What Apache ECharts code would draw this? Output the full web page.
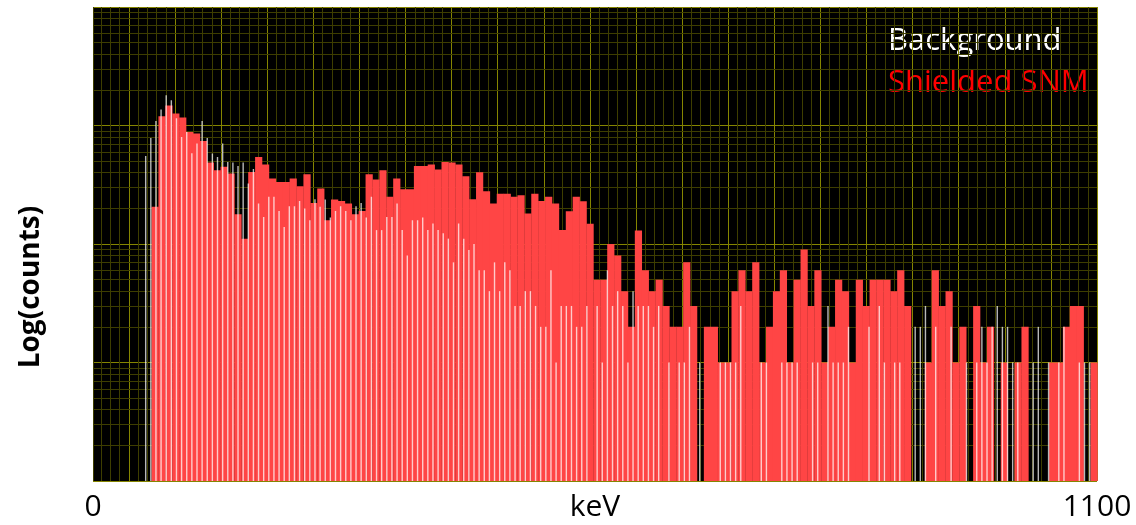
<!DOCTYPE html>
<html>
<head>
<meta charset="utf-8">
<script src="https://cdn.jsdelivr.net/npm/echarts@6/dist/echarts.min.js"></script>
<style>
html, body { margin: 0; padding: 0; background: #fff; }
#chart { width: 1136px; height: 525px; }
</style>
</head>
<body>
<div id="chart"></div>
<script>
// shielded SNM spectrum, counts per bin (wide bins)
const snmCounts = [
  206, 1198, 1475, 1262, 1169, 883, 856, 741, 488, 420,
  448, 394, 178, 111, 406, 543, 469, 357, 334, 334,
  357, 307, 388, 222, 294, 159, 237, 231, 220, 178,
  190, 388, 350, 420, 250, 357, 290, 290, 456, 456,
  469, 425, 493, 488, 469, 373, 239, 403, 279, 220,
  265, 265, 250, 258, 181, 265, 231, 250, 220, 131,
  189, 250, 230, 148, 50, 50, 100, 80, 40, 20,
  130, 60, 40, 50, 30, 20, 20, 70, 30, 0,
  20, 20, 10, 10, 40, 60, 40, 70, 10, 20,
  40, 60, 10, 50, 90, 30, 60, 10, 20, 50,
  40, 10, 50, 30, 50, 50, 50, 40, 60, 30,
  0, 0, 10, 60, 30, 40, 10, 20, 0, 30,
  10, 20, 0, 10, 0, 10, 20, 0, 0, 0,
  10, 10, 20, 30, 30, 0, 10
];
// background spectrum, counts per bin (narrow bins)
const bgCounts = [
  554, 786, 1094, 1365, 1803, 1635, 1152, 801, 883, 584,
  705, 1094, 786, 580, 543, 705, 493, 487, 456, 487,
  324, 430, 220, 169, 250, 250, 190, 139, 208, 208,
  231, 199, 159, 239, 206, 237, 167, 190, 208, 190,
  159, 208, 222, 167, 250, 131, 131, 169, 169, 220,
  131, 80, 159, 159, 167, 131, 149, 131, 123, 111,
  70, 149, 111, 89, 100, 60, 60, 40, 70, 40,
  70, 60, 30, 30, 40, 40, 30, 20, 20, 60,
  10, 30, 30, 30, 20, 20, 30, 0, 30, 10,
  60, 30, 40, 30, 10, 40, 30, 30, 30, 20,
  30, 0, 10, 0, 10, 10, 20, 0, 10, 0,
  0, 0, 10, 10, 10, 10, 30, 0, 0, 0,
  10, 10, 0, 0, 10, 10, 10, 10, 0, 0,
  10, 10, 0, 30, 10, 10, 10, 20, 0, 0,
  0, 20, 0, 30, 10, 0, 10, 10, 0, 0,
  20, 20, 30, 0, 20, 0, 0, 20, 0, 0,
  10, 0, 10, 20, 10, 20, 30, 20, 20, 10,
  10, 0, 0, 10, 20, 0, 10, 0, 10, 20,
  0, 0, 10, 10, 10, 0
];
// energy axis end labels (keV)
const energyRange = [0, 1100];
// log grid: decades and the minor multipliers inside each decade
const decades = [1, 10, 100, 1000];
const minorSteps = [2, 3, 4, 5, 6, 7, 8, 9];

const majorGrid = '#858500';
const minorGrid = '#3e3e00';
const font = '"Open Sans", "Noto Sans", sans-serif';

let minorLines = [];
decades.forEach(d => {
  minorSteps.forEach(m => minorLines.push({ yAxis: d * m }));
});

const chart = echarts.init(document.getElementById('chart'));

const option = {
  animation: false,
  grid: {
    left: 93, top: 7, width: 1004, height: 474,
    outerBoundsMode: 'none', containLabel: false,
    show: true, backgroundColor: '#000', borderWidth: 0
  },
  xAxis: [
    // bins of the SNM spectrum
    { type: 'value', min: -8.5, max: 136.92, show: false },
    // bins of the background spectrum
    { type: 'value', min: -10.27, max: 185.44, show: false },
    // vertical grid (counted from the right edge)
    {
      type: 'value', inverse: true, min: 0, max: 108.9, interval: 1,
      position: 'top',
      axisLine: { show: false }, axisTick: { show: false }, axisLabel: { show: false },
      splitLine: {
        show: true,
        lineStyle: { color: [majorGrid, minorGrid, minorGrid, minorGrid, minorGrid], width: 1 }
      }
    },
    // energy labels
    {
      type: 'value', min: energyRange[0], max: energyRange[1], interval: energyRange[1],
      position: 'bottom',
      axisLine: { show: false }, axisTick: { show: false }, splitLine: { show: false },
      axisLabel: { color: '#000', fontSize: 30, fontFamily: font, margin: 11, formatter: v => String(v) },
      name: 'keV', nameLocation: 'middle', nameGap: 11, nameMoveOverlap: false,
      nameTextStyle: { color: '#000', fontSize: 30, fontFamily: font, verticalAlign: 'top' }
    }
  ],
  yAxis: {
    type: 'log', logBase: 10, min: 1, max: 10000,
    axisLine: { show: false }, axisTick: { show: false }, axisLabel: { show: false },
    splitLine: { show: true, lineStyle: { color: majorGrid, width: 1 } }
  },
  series: [
    {
      name: 'Shielded SNM',
      type: 'bar',
      xAxisIndex: 0,
      barWidth: 7.2,
      z: 3,
      itemStyle: { color: '#ff4545' },
      data: snmCounts.map((v, i) => [i + 0.5, v > 0 ? v : '-']),
      markLine: {
        silent: true, z: 1, symbol: ['none', 'none'],
        label: { show: false },
        lineStyle: { color: minorGrid, type: 'solid', width: 1 },
        data: minorLines
      }
    },
    {
      name: 'Background',
      type: 'bar',
      xAxisIndex: 1,
      barWidth: 1.4,
      z: 4,
      itemStyle: { color: 'rgba(255,255,255,0.72)' },
      data: bgCounts.map((v, i) => [i, v > 0 ? v : '-'])
    }
  ],
  graphic: [
    {
      type: 'text', x: 888, y: 41,
      style: { text: 'Background', fill: '#fff', font: '31px ' + font, verticalAlign: 'middle' }
    },
    {
      type: 'text', x: 888, y: 83,
      style: { text: 'Shielded SNM', fill: '#ff0000', font: '31px ' + font, verticalAlign: 'middle' }
    },
    {
      type: 'text', x: 31, y: 287, rotation: Math.PI / 2,
      style: { text: 'Log(counts)', fill: '#000', font: 'bold 28px ' + font, align: 'center', verticalAlign: 'middle' }
    }
  ]
};

chart.setOption(option);
</script>
</body>
</html>
